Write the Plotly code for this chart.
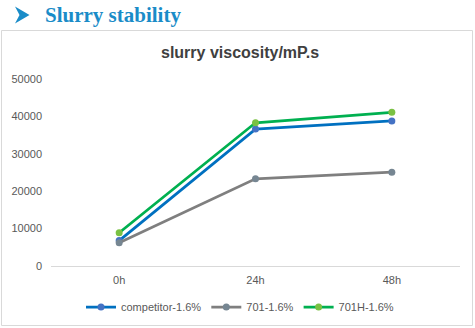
import plotly.graph_objects as go

W, H = 475, 328

categories = ["0h", "24h", "48h"]
competitor = [6800, 36600, 38800]
s701 = [6200, 23300, 25100]
s701h = [8900, 38300, 41100]
y_ticks = [0, 10000, 20000, 30000, 40000, 50000]

series = [
    ("competitor-1.6%", competitor, "#0070C0", "#4472C4"),
    ("701-1.6%", s701, "#7F7F7F", "#768692"),
    ("701H-1.6%", s701h, "#00B050", "#7AC143"),
]

fig = go.Figure()
for name, vals, lc, mc in series:
    fig.add_trace(go.Scatter(
        x=categories, y=vals, name=name, mode="lines+markers",
        line=dict(color=lc, width=2.75),
        marker=dict(color=mc, size=7, symbol="circle"),
    ))

# plot area in pixels: x 51..460, y 79..266
px = lambda x: x / W
py = lambda y: 1 - y / H

arrow = "M {} {} L {} {} L {} {} L {} {} Z".format(
    px(15), py(6.5), px(29.5), py(15), px(15), py(23.5), px(19.5), py(15))

fig.update_layout(
    width=W, height=H,
    margin=dict(l=0, r=0, t=0, b=0, autoexpand=False),
    paper_bgcolor="white", plot_bgcolor="white",
    font=dict(family="Liberation Sans, Arial, sans-serif", size=11, color="#595959"),
    xaxis=dict(
        domain=[px(51), px(460)], automargin=False,
        type="category", range=[-0.5, 2.5],
        showgrid=False, zeroline=False,
        showline=True, linecolor="#D9D9D9", linewidth=1,
        ticks="", ticklabelstandoff=4,
        tickfont=dict(size=11, color="#595959"),
    ),
    yaxis=dict(
        domain=[py(266), py(79)], automargin=False,
        range=[0, 50000], tickvals=y_ticks, ticktext=[str(v) for v in y_ticks],
        showgrid=False, zeroline=False, showline=False,
        ticks="", ticklabelstandoff=8,
        tickfont=dict(size=11, color="#595959"),
    ),
    showlegend=True,
    legend=dict(
        orientation="h", x=px(240), xanchor="center", y=py(307), yanchor="middle",
        font=dict(size=11, color="#595959"), itemwidth=30,
        bgcolor="rgba(0,0,0,0)", traceorder="normal",
    ),
    shapes=[
        dict(type="rect", xref="paper", yref="paper",
             x0=px(1.5), x1=px(472.5), y0=py(325.5), y1=py(30.5),
             line=dict(color="#D9D9D9", width=1), fillcolor="rgba(0,0,0,0)", layer="below"),
        dict(type="path", xref="paper", yref="paper", path=arrow,
             line=dict(width=0), fillcolor="#1A8CC8"),
    ],
    annotations=[
        dict(text="<b>slurry viscosity/mP.s</b>", xref="paper", yref="paper",
             x=px(240), y=py(52), xanchor="center", yanchor="middle", showarrow=False,
             font=dict(family="Liberation Sans, Arial, sans-serif", size=16, color="#404040")),
        dict(text="<b>Slurry stability</b>", xref="paper", yref="paper",
             x=px(43), y=py(15), xanchor="left", yanchor="middle", showarrow=False,
             font=dict(family="Liberation Serif, Times New Roman, serif", size=21, color="#1A8CC8")),
    ],
)

fig.write_html("out.html")
